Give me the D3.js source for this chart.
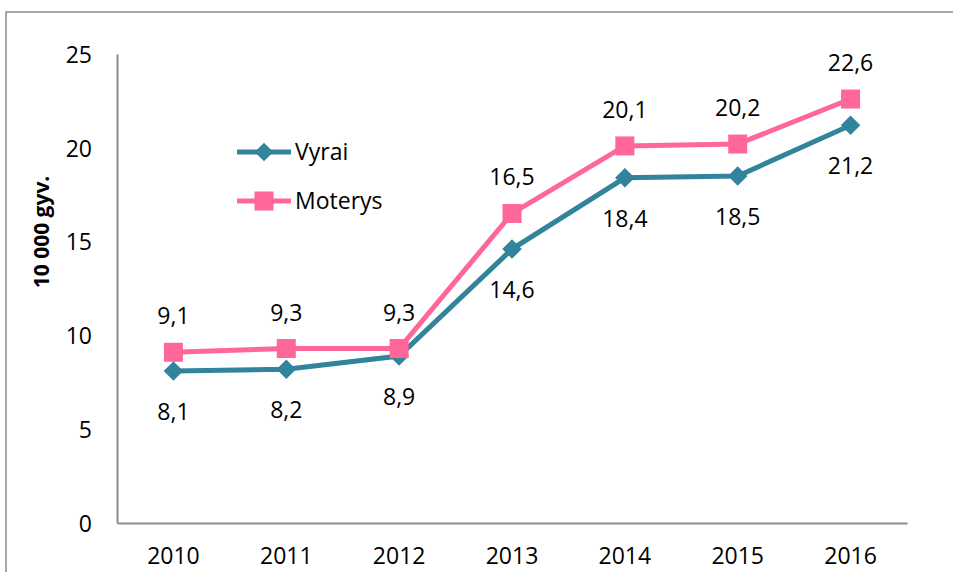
<!DOCTYPE html>
<html>
<head>
<meta charset="utf-8">
<script src="https://cdn.jsdelivr.net/npm/d3@7"></script>
<style>
  body { margin: 0; background: #fff; }
  text { font-family: "Open Sans", "Noto Sans", sans-serif; fill: #000; }
</style>
</head>
<body>
<svg width="953" height="572"></svg>
<script>
var years = ["2010", "2011", "2012", "2013", "2014", "2015", "2016"];
var vyrai = [8.1, 8.2, 8.9, 14.6, 18.4, 18.5, 21.2];
var moterys = [9.1, 9.3, 9.3, 16.5, 20.1, 20.2, 22.6];
var yTicks = [0, 5, 10, 15, 20, 25];
var seriesNames = ["Vyrai", "Moterys"];

var svg = d3.select("svg");

// outer frame (runs off the bottom and right edge)
svg.append("rect")
  .attr("x", 6).attr("y", 12)
  .attr("width", 960).attr("height", 580)
  .attr("fill", "none")
  .attr("stroke", "#8c8c8c")
  .attr("stroke-width", 1.5);

var pLeft = 117, pRight = 907, pTop = 54, pBottom = 523;

var x = d3.scaleBand().domain(years).range([pLeft, pRight]);
var y = d3.scaleLinear().domain([0, 25]).range([pBottom, pTop]);

function cx(d, i) { return x(years[i]) + x.bandwidth() / 2; }

// axes
var yAxis = svg.append("g")
  .attr("transform", "translate(" + pLeft + ",0)")
  .call(d3.axisLeft(y).tickValues(yTicks).tickSize(0).tickPadding(25));
yAxis.select(".domain").attr("stroke", "#8c8c8c").attr("stroke-width", 2);
yAxis.selectAll("text").style("font-size", "23px").attr("dy", "0.36em");

var xAxis = svg.append("g")
  .attr("transform", "translate(0," + pBottom + ")")
  .call(d3.axisBottom(x).tickSize(0).tickPadding(25));
xAxis.select(".domain").attr("stroke", "#8c8c8c").attr("stroke-width", 2);
xAxis.selectAll("text").style("font-size", "23px");

svg.append("text")
  .attr("transform", "translate(49,232) rotate(-90)")
  .attr("text-anchor", "middle")
  .style("font-size", "21px")
  .style("font-weight", "bold")
  .text("10 000 gyv.");

var line = d3.line().x(cx).y(function(d) { return y(d); });

var colors = { v: "#31849b", m: "#ff6699" };

// Vyrai
svg.append("path").datum(vyrai)
  .attr("d", line).attr("fill", "none")
  .attr("stroke", colors.v).attr("stroke-width", 5);
svg.selectAll(".dia").data(vyrai).enter().append("path")
  .attr("d", d3.symbol().type(d3.symbolSquare).size(190))
  .attr("transform", function(d, i) { return "translate(" + cx(d, i) + "," + y(d) + ") rotate(45)"; })
  .attr("fill", colors.v);

// Moterys
svg.append("path").datum(moterys)
  .attr("d", line).attr("fill", "none")
  .attr("stroke", colors.m).attr("stroke-width", 5);
svg.selectAll(".sq").data(moterys).enter().append("rect")
  .attr("x", function(d, i) { return cx(d, i) - 9.5; })
  .attr("y", function(d) { return y(d) - 9.5; })
  .attr("width", 19).attr("height", 19)
  .attr("fill", colors.m);

function fmt(d) { return String(d).replace(".", ","); }

svg.selectAll(".lv").data(vyrai).enter().append("text")
  .attr("x", cx)
  .attr("y", function(d) { return y(d) + 49; })
  .attr("text-anchor", "middle")
  .style("font-size", "23px")
  .text(fmt);

svg.selectAll(".lm").data(moterys).enter().append("text")
  .attr("x", cx)
  .attr("y", function(d) { return y(d) - 28; })
  .attr("text-anchor", "middle")
  .style("font-size", "23px")
  .text(fmt);

// legend
var legend = svg.append("g");
seriesNames.forEach(function(name, i) {
  var ly = 152 + i * 49;
  var c = i === 0 ? colors.v : colors.m;
  legend.append("line")
    .attr("x1", 237).attr("x2", 291).attr("y1", ly).attr("y2", ly)
    .attr("stroke", c).attr("stroke-width", 5);
  if (i === 0) {
    legend.append("path")
      .attr("d", d3.symbol().type(d3.symbolSquare).size(170))
      .attr("transform", "translate(264," + ly + ") rotate(45)")
      .attr("fill", c);
  } else {
    legend.append("rect")
      .attr("x", 254.5).attr("y", ly - 9.5).attr("width", 19).attr("height", 19)
      .attr("fill", c);
  }
  legend.append("text")
    .attr("x", 295).attr("y", ly).attr("dy", "0.36em")
    .style("font-size", "23px")
    .text(name);
});
</script>
</body>
</html>
